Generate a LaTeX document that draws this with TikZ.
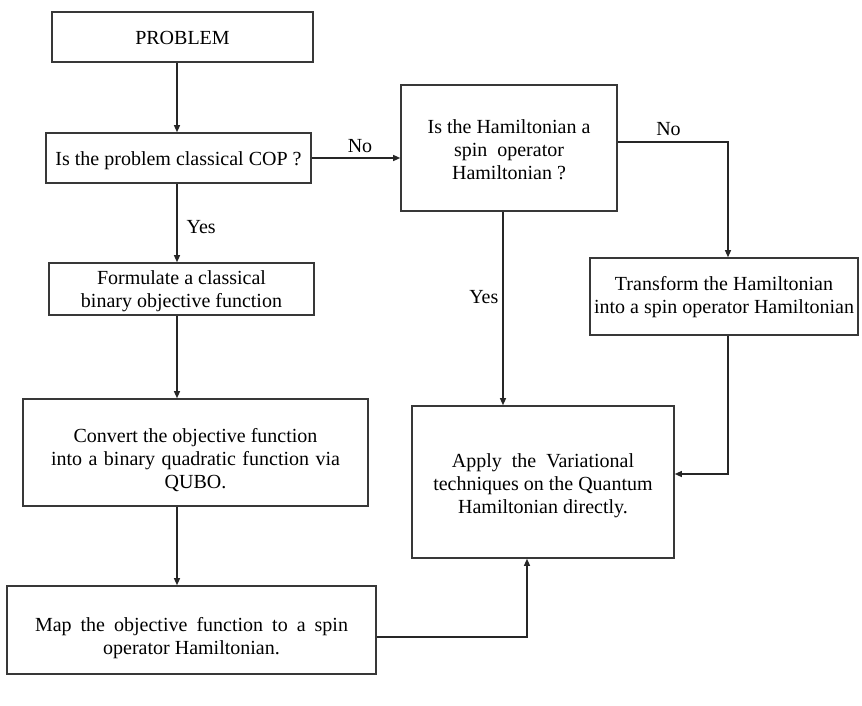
\documentclass[tikz,border=0pt]{standalone}
\usepackage{fontspec}
\setmainfont{Liberation Serif}
\usetikzlibrary{arrows.meta}
\begin{document}
\begin{tikzpicture}[x=1pt,y=-1pt,
  box/.style={draw=black!78,line width=1.6pt,inner sep=0pt},
  txt/.style={inner sep=0pt,align=center,font=\fontsize{20}{23}\selectfont},
  arr/.style={draw=black!85,line width=1.2pt,-{Triangle[length=7pt,width=6pt]}},
  lbl/.style={font=\fontsize{20}{23}\selectfont,inner sep=0pt}]
\useasboundingbox (0,0) rectangle (862,706);
\node[box,minimum width=261pt,minimum height=50pt] (prob) at (182.5,37) {};
\node[txt] (probt) at ([yshift=-1pt]prob.center) {PROBLEM};
\node[box,minimum width=265pt,minimum height=50pt] (cop) at (178.5,158) {};
\node[txt] (copt) at ([yshift=-3pt]cop.center) {Is the problem classical COP ?};
\node[box,minimum width=265pt,minimum height=52pt] (form) at (181.5,289) {};
\node[txt] (formt) at ([yshift=-2pt]form.center) {Formulate a classical\\binary objective function};
\node[box,minimum width=345pt,minimum height=107pt] (conv) at (195.5,452.5) {};
\node[txt] (convt) at ([yshift=-8pt]conv.center) {Convert the objective function\\\makebox[289pt][s]{into a binary quadratic function via}\\QUBO.};
\node[box,minimum width=369pt,minimum height=88pt] (map) at (191.5,630) {};
\node[txt] (mapt) at ([yshift=-8pt]map.center) {\makebox[313pt][s]{Map the objective function to a spin}\\operator Hamiltonian.};
\node[box,minimum width=216pt,minimum height=126pt] (ham) at (509,148) {};
\node[txt] (hamt) at ([yshift=-2pt]ham.center) {Is the Hamiltonian a\\spin~ operator\\Hamiltonian ?};
\node[box,minimum width=268pt,minimum height=77pt] (trans) at (724,296.5) {};
\node[txt] (transt) at ([yshift=-1pt]trans.center) {Transform the Hamiltonian\\into a spin operator Hamiltonian};
\node[box,minimum width=262pt,minimum height=152pt] (apply) at (543,482) {};
\node[txt] (applyt) at ([yshift=-4pt]apply.center) {Apply~ the~ Variational\\techniques on the Quantum\\Hamiltonian directly.};
\coordinate (colx) at (177,0);
\coordinate (yesx) at (503,0);
\coordinate (upx) at (527,0);
\draw[arr] (prob.south -| colx) -- (cop.north -| colx);
\draw[arr] (cop.south -| colx) -- (form.north -| colx) node[lbl,pos=0.55,right=9pt] {Yes};
\draw[arr] (form.south -| colx) -- (conv.north -| colx);
\draw[arr] (conv.south -| colx) -- (map.north -| colx);
\draw[arr] (cop.east) -- (cop.east -| ham.west) node[lbl,midway,above=5pt,xshift=4pt] {No};
\draw[arr] ([yshift=6pt]ham.east) -| ([xshift=4pt]trans.north) node[lbl,pos=0.23,above=6pt] {No};
\draw[arr] (ham.south -| yesx) -- (apply.north -| yesx) node[lbl,pos=0.44,left=4pt] {Yes};
\draw[arr] ([xshift=4pt]trans.south) |- ([yshift=8pt]apply.east);
\draw[arr] ([yshift=-7pt]map.east) -| (apply.south -| upx);
\end{tikzpicture}
\end{document}
